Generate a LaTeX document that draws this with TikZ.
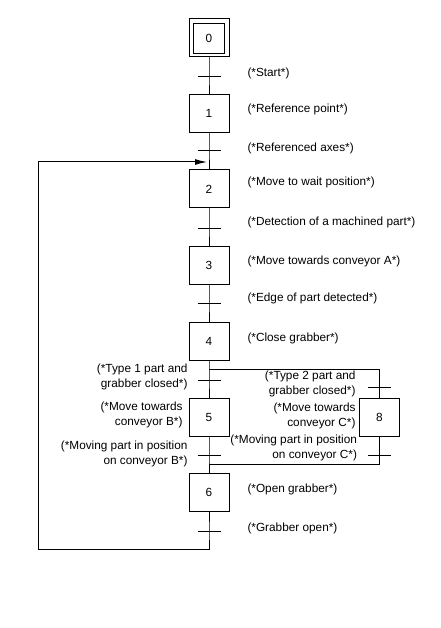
\documentclass[tikz,border=0pt]{standalone}
\usepackage{fontspec}
\setmainfont{Liberation Sans}
\usetikzlibrary{calc, arrows.meta}

\begin{document}
\begin{tikzpicture}[x=1pt,y=-1pt,line width=1pt,
	etape/.style={draw, minimum width=40pt, minimum height=38pt, inner sep=0pt, font=\fontsize{11.8}{15}\selectfont},
	lbl/.style={inner sep=0pt, font=\fontsize{11.8}{15}\selectfont}]
\useasboundingbox (0,0) rectangle (440,628);
\node[etape] (s0) at (209,38) {0};
\draw ($(s0.south west)+(5,-4)$) rectangle ($(s0.north east)+(-5,5)$);
\node[etape] (s1) at (209,113.5) {1};
\node[etape] (s2) at (209,189) {2};
\node[etape] (s3) at (209,265.5) {3};
\node[etape] (s4) at (209,341) {4};
\node[etape] (s5) at (209,417) {5};
\node[etape] (s8) at (379.5,417) {8};
\node[etape] (s6) at (209,492.5) {6};
\coordinate (t1) at (209,77);
\coordinate (t2) at (209,151);
\coordinate (t3) at (209,228);
\coordinate (t4) at (209,303);
\coordinate (t5) at (209,380);
\coordinate (t8) at (379.5,387);
\coordinate (t6) at (209,455);
\coordinate (t9) at (379.5,455);
\coordinate (t7) at (209,531);
\coordinate (d1) at (209,369);
\coordinate (d2) at (379.5,369);
\coordinate (c1) at (209,464);
\coordinate (c2) at (379.5,464);
\coordinate (b1) at (209,549);
\coordinate (b2) at (38,549);
\coordinate (b3) at (38,162);
\coordinate (b4) at (207,162);
\draw (s0) -- (t1) -- (s1);
\draw (s1) -- (t2) -- (s2);
\draw (s2) -- (t3) -- (s3);
\draw (s3) -- (t4) -- (s4);
\draw (s4) -- (t5) -- (s5);
\draw (d1) -- (d2) -- (t8) -- (s8);
\draw (s5) -- (t6) -- (s6);
\draw (s8) -- (t9) -- (c2) -- (c1);
\draw[-{Latex[length=12pt,width=6pt]}] (s6) -- (t7) -- (b1) -- (b2) -- (b3) -- (b4);
\foreach \t in {t1,t2,t3,t4,t5,t6,t7,t8,t9}{
	\draw ($(\t)+(-11.5,0)$) -- ($(\t)+(11.5,0)$);
	}
\foreach \n/\yy/\txt in {a1/73/{(*Start*)}, a2/109/{(*Reference point*)}, a3/148/{(*Referenced axes*)},
	a4/182/{(*Move to wait position*)}, a5/222/{(*Detection of a machined part*)},
	a6/261/{(*Move towards conveyor A*)}, a7/298/{(*Edge of part detected*)},
	a8/338/{(*Close grabber*)}, a9/489/{(*Open grabber*)}, a10/528/{(*Grabber open*)}}{
	\node[lbl, anchor=west] (\n) at (247,\yy) {\txt};
	}
\node[lbl, anchor=east, align=right] (b5) at (188,376.5) {(*Type 1 part and\\grabber closed*)};
\node[lbl, anchor=east, align=right] (b6) at (183,414.5) {(*Move towards\\conveyor B*)};
\node[lbl, anchor=east, align=right] (b7) at (188,454) {(*Moving part in position\\on conveyor B*)};
\node[lbl, anchor=east, align=right] (b8) at (356,384) {(*Type 2 part and\\grabber closed*)};
\node[lbl, anchor=east, align=right] (b9) at (356,415.5) {(*Move towards\\conveyor C*)};
\node[lbl, anchor=east, align=right] (b10) at (357.5,448) {(*Moving part in position\\on conveyor C*)};
\end{tikzpicture}
\end{document}
